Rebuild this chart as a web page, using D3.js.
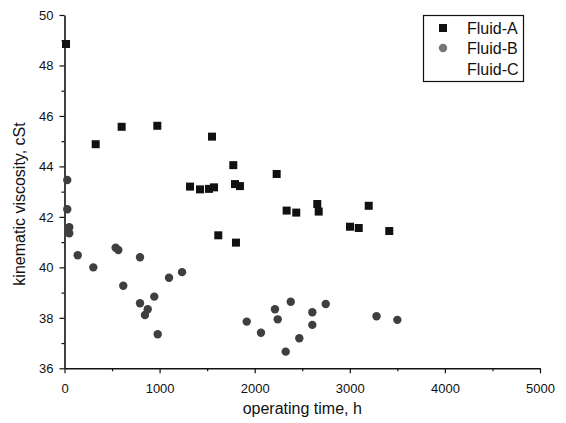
<!DOCTYPE html>
<html>
<head>
<meta charset="utf-8">
<script src="https://cdn.jsdelivr.net/npm/d3@7"></script>
<style>
  body { margin: 0; background: #fff; }
  text { font-family: Arial, "Liberation Sans", sans-serif; fill: #111; }
</style>
</head>
<body>
<div id="container"></div>
<script>
/* DATA */
const fluidA_time = [16, 328, 601, 976, 1320, 1425, 1519, 1551, 1572, 1617, 1775, 1793, 1803, 1845, 2231, 2336, 2437, 2658, 2673, 3002, 3094, 3199, 3415];
const fluidA_visc = [48.85, 44.88, 45.57, 45.61, 43.2, 43.09, 43.11, 45.18, 43.17, 41.27, 44.05, 43.3, 40.98, 43.22, 43.7, 42.25, 42.17, 42.51, 42.21, 41.61, 41.56, 42.44, 41.44];

const fluidB_time = [29, 29, 50, 50, 139, 303, 538, 566, 618, 794, 794, 846, 875, 944, 980, 1099, 1236, 1916, 2066, 2213, 2242, 2326, 2379, 2469, 2606, 2606, 2747, 3281, 3500];
const fluidB_visc = [43.46, 42.3, 41.59, 41.35, 40.48, 40.0, 40.78, 40.69, 39.27, 40.4, 38.58, 38.11, 38.34, 38.84, 37.35, 39.59, 39.81, 37.85, 37.41, 38.34, 37.94, 36.66, 38.64, 37.19, 38.22, 37.72, 38.55, 38.06, 37.92];

const seriesNames = ["Fluid-A", "Fluid-B", "Fluid-C"];
const xTicks = [0, 1000, 2000, 3000, 4000, 5000];
const yTicks = [36, 38, 40, 42, 44, 46, 48, 50];

/* CONSTANTS */
const width = 566;
const height = 423;
const margin = {left: 64.5, right: 26, top: 15, bottom: 54.7};

const svg = d3.select("#container")
  .append("svg")
  .attr("width", width)
  .attr("height", height);

/* SCALES */
const xScale = d3.scaleLinear()
  .domain([0, 5000])
  .range([margin.left, width - margin.right]);

const yScale = d3.scaleLinear()
  .domain([36, 50])
  .range([height - margin.bottom, margin.top]);

/* AXES */
// minor ticks first
svg.append("g")
  .attr("transform", `translate(0,${height - margin.bottom})`)
  .call(d3.axisBottom(xScale).tickValues(d3.range(500, 5000, 1000)).tickSize(3).tickFormat(""))
  .call(g => g.select(".domain").remove());

svg.append("g")
  .attr("transform", `translate(${margin.left},0)`)
  .call(d3.axisLeft(yScale).tickValues(d3.range(37, 50, 2)).tickSize(3).tickFormat(""))
  .call(g => g.select(".domain").remove());

svg.append("g")
  .attr("transform", `translate(0,${height - margin.bottom})`)
  .call(d3.axisBottom(xScale).tickValues(xTicks).tickFormat(d3.format("d"))
    .tickSize(5).tickPadding(10).tickSizeOuter(0));

svg.append("g")
  .attr("transform", `translate(${margin.left},0)`)
  .call(d3.axisLeft(yScale).tickValues(yTicks).tickFormat(d3.format("d"))
    .tickSize(5).tickPadding(6).tickSizeOuter(0));

svg.selectAll(".tick text")
  .style("font-size", "13px")
  .style("font-family", "Arial, 'Liberation Sans', sans-serif")
  .attr("fill", "#111");
svg.selectAll(".domain").attr("stroke", "#111").attr("stroke-width", 1.6);
svg.selectAll(".tick line").attr("stroke", "#111").attr("stroke-width", 1.2);

// axis titles
svg.append("text")
  .attr("x", (xScale(0) + xScale(5000)) / 2)
  .attr("y", 414)
  .attr("text-anchor", "middle")
  .style("font-size", "16px")
  .text("operating time, h");

svg.append("text")
  .attr("transform", `translate(25,204) rotate(-90)`)
  .attr("text-anchor", "middle")
  .style("font-size", "16px")
  .text("kinematic viscosity, cSt");

/* MARKS */
const sq = 8;
svg.append("g")
  .selectAll("rect")
  .data(fluidA_time)
  .join("rect")
  .attr("x", (d, i) => xScale(d) - sq / 2)
  .attr("y", (d, i) => yScale(fluidA_visc[i]) - sq / 2)
  .attr("width", sq)
  .attr("height", sq)
  .attr("fill", "#111");

svg.append("g")
  .selectAll("circle")
  .data(fluidB_time)
  .join("circle")
  .attr("cx", d => xScale(d))
  .attr("cy", (d, i) => yScale(fluidB_visc[i]))
  .attr("r", 4.2)
  .attr("fill", "#3f3f3f");

/* LEGEND */
const legend = svg.append("g");
legend.append("rect")
  .attr("x", 423.5).attr("y", 15.5)
  .attr("width", 100).attr("height", 66)
  .attr("fill", "none")
  .attr("stroke", "#111")
  .attr("stroke-width", 1.2);

const legendY = [28, 48, 69];
legend.selectAll("text")
  .data(seriesNames)
  .join("text")
  .attr("x", 467)
  .attr("y", (d, i) => legendY[i] + 6)
  .style("font-size", "16px")
  .text(d => d);

legend.append("rect")
  .attr("x", 443 - sq / 2).attr("y", legendY[0] - sq / 2)
  .attr("width", sq).attr("height", sq)
  .attr("fill", "#111");
legend.append("circle")
  .attr("cx", 443).attr("cy", legendY[1])
  .attr("r", 4.2)
  .attr("fill", "#777");
</script>
</body>
</html>
